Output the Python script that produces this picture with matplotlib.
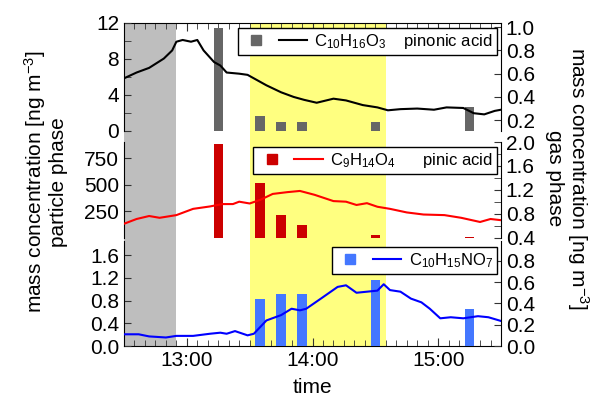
import datetime as dt
import matplotlib
matplotlib.use("Agg")
from matplotlib import pyplot as plt
import matplotlib.dates as mdates
from matplotlib.lines import Line2D
from matplotlib.legend_handler import HandlerTuple
from matplotlib.ticker import MultipleLocator, FixedLocator

# gas phase (right axes)
pin_t = ["12:30", "12:36", "12:42", "12:49", "12:53", "12:55", "12:58", "13:02", "13:05", "13:08",
         "13:13", "13:16", "13:19", "13:25", "13:29", "13:33", "13:38", "13:45", "13:51", "13:56",
         "14:02", "14:10", "14:16", "14:24", "14:31", "14:36", "14:42", "14:50", "14:58", "15:04",
         "15:12", "15:17", "15:22", "15:27", "15:30"]
pin_v = [0.56, 0.61, 0.65, 0.73, 0.80, 0.875, 0.89, 0.875, 0.89, 0.80,
         0.70, 0.67, 0.61, 0.60, 0.59, 0.55, 0.50, 0.44, 0.40, 0.375,
         0.35, 0.385, 0.37, 0.33, 0.31, 0.285, 0.295, 0.30, 0.29, 0.31,
         0.305, 0.26, 0.25, 0.28, 0.29]

pic_t = ["12:30", "12:36", "12:42", "12:47", "12:55", "13:03", "13:11", "13:17", "13:22", "13:25",
         "13:30", "13:35", "13:41", "13:48", "13:54", "14:01", "14:10", "14:16", "14:21", "14:26",
         "14:31", "14:37", "14:45", "14:53", "15:03", "15:11", "15:20", "15:25", "15:30"]
pic_v = [0.63, 0.71, 0.76, 0.73, 0.775, 0.88, 0.92, 0.96, 0.96, 1.00,
         0.97, 1.03, 1.13, 1.16, 1.18, 1.115, 1.01, 1.00, 0.945, 0.975,
         0.915, 0.88, 0.82, 0.785, 0.775, 0.73, 0.66, 0.71, 0.69]

nit_t = ["12:30", "12:37", "12:42", "12:50", "12:55", "13:03", "13:11", "13:16", "13:19", "13:23",
         "13:29", "13:32", "13:38", "13:45", "13:50", "13:54", "13:57", "14:04", "14:12", "14:16",
         "14:21", "14:26", "14:31", "14:34", "14:37", "14:42", "14:47", "14:52", "14:56", "15:01",
         "15:06", "15:12", "15:19", "15:24", "15:30"]
nit_v = [0.11, 0.11, 0.09, 0.08, 0.095, 0.095, 0.115, 0.125, 0.115, 0.14,
         0.10, 0.115, 0.24, 0.29, 0.35, 0.335, 0.35, 0.445, 0.555, 0.57,
         0.50, 0.51, 0.52, 0.58, 0.525, 0.51, 0.445, 0.41, 0.35, 0.26,
         0.27, 0.26, 0.28, 0.27, 0.235]

# particle phase filter samples (left axes)
bar_t = ["13:15", "13:35", "13:45", "13:55", "14:30", "15:15"]
pin_bar = [11.4, 1.7, 1.05, 1.05, 1.05, 2.7]
pic_bar = [880, 510, 212, 118, 24, 8]
nit_bar = [0, 0.82, 0.92, 0.92, 1.16, 0.66]

labels = ["C$_{10}$H$_{16}$O$_3$    pinonic acid",
          "C$_9$H$_{14}$O$_4$      pinic acid",
          "C$_{10}$H$_{15}$NO$_7$"]


def tm(s):
  return dt.datetime(2020, 1, 1, int(s[:2]), int(s[3:]))


def main():
  plt.rcParams.update({"font.family": "Liberation Sans", "font.size": 15,
                       "mathtext.default": "regular",
                       "xtick.direction": "in", "ytick.direction": "in"})
  W, H = 608, 404
  fig = plt.figure(figsize=(W / 100, H / 100), dpi=100)

  def rect(y0, y1):
    return [124 / W, 1 - y1 / H, 377 / W, (y1 - y0) / H]

  bg = fig.add_axes(rect(23, 346))
  bg.axvspan(tm("12:30"), tm("12:55"), color="#bebebe", lw=0)
  bg.axvspan(tm("13:30"), tm("14:35"), color="#ffff80", lw=0)
  bg.set_xlim(tm("12:30"), tm("15:30"))
  bg.set_ylim(0, 1)
  bg.set_yticks([])
  bg.spines["left"].set_visible(False)
  bg.spines["right"].set_visible(False)
  bg.xaxis.set_major_locator(mdates.HourLocator())
  bg.xaxis.set_major_formatter(mdates.DateFormatter("%H:%M"))
  bg.xaxis.set_minor_locator(mdates.MinuteLocator(byminute=range(0, 60, 5)))
  bg.tick_params(axis="x", which="both", top=True, color="#333333")
  bg.tick_params(axis="x", which="major", length=6)
  bg.tick_params(axis="x", which="minor", length=4)
  bg.set_xlabel("time", labelpad=6)

  panels = [
    (23, 131, pin_bar, "#666666", (0, 12), pin_t, pin_v, "black", (0.107, 1.036)),
    (142, 237.5, pic_bar, "#cc0000", (0, 901), pic_t, pic_v, "#ff0000", (0.4, 2.0)),
    (241, 346, nit_bar, "#4477ff", (0, 1.85), nit_t, nit_v, "#0000ff", (0, 0.986)),
  ]
  axes = []
  for y0, y1, bars, bcol, ylim, lt, lv, lcol, ylim2 in panels:
    ax = fig.add_axes(rect(y0, y1), sharex=bg)
    ax.patch.set_alpha(0)
    ax.bar([tm(t) for t in bar_t], bars, width=dt.timedelta(minutes=4.5), color=bcol)
    ax.set_ylim(*ylim)
    ax2 = ax.twinx()
    ax2.plot([tm(t) for t in lt], lv, color=lcol, lw=1.5)
    ax2.set_ylim(*ylim2)
    for a in (ax, ax2):
      a.spines["top"].set_visible(False)
      a.spines["bottom"].set_visible(False)
      a.tick_params(axis="x", which="both", bottom=False, top=False, labelbottom=False)
      a.tick_params(axis="y", which="both", length=5, color="#333333")
    ax.spines["right"].set_visible(False)
    ax2.spines["left"].set_visible(False)
    axes.append((ax, ax2, bcol, lcol))

  a0, b0 = axes[0][0], axes[0][1]
  a0.yaxis.set_major_locator(MultipleLocator(4))
  a0.yaxis.set_minor_locator(MultipleLocator(2))
  b0.yaxis.set_major_locator(FixedLocator([0.2, 0.4, 0.6, 0.8, 1.0]))
  b0.yaxis.set_major_formatter("{x:.1f}")

  a1, b1 = axes[1][0], axes[1][1]
  a1.yaxis.set_major_locator(FixedLocator([250, 500, 750]))
  b1.yaxis.set_major_locator(FixedLocator([0.4, 0.8, 1.2, 1.6, 2.0]))
  b1.yaxis.set_minor_locator(FixedLocator([0.6, 1.0, 1.4, 1.8]))
  b1.yaxis.set_major_formatter("{x:.1f}")

  a2, b2 = axes[2][0], axes[2][1]
  a2.yaxis.set_major_locator(FixedLocator([0, 0.4, 0.8, 1.2, 1.6]))
  a2.yaxis.set_major_formatter("{x:.1f}")
  b2.yaxis.set_major_locator(FixedLocator([0, 0.2, 0.4, 0.6, 0.8]))
  b2.yaxis.set_major_formatter("{x:.1f}")

  # legends: square + line side by side, boxed
  anchors = [(497, 28), (497, 147), (497, 247)]
  for (ax, ax2, bcol, lcol), lab, (xa, ya) in zip(axes, labels, anchors):
    h = (Line2D([], [], marker="s", ls="none", color=bcol, markersize=7),
         Line2D([], [], color=lcol, lw=1.5))
    leg = ax2.legend([h], [lab], handler_map={tuple: HandlerTuple(ndivide=None, pad=0.5)},
                     handlelength=3.9, fontsize=12, loc="upper right",
                     bbox_to_anchor=(xa / W, 1 - ya / H), bbox_transform=fig.transFigure,
                     borderaxespad=0, fancybox=False, framealpha=1, edgecolor="black",
                     borderpad=0.25, handletextpad=0.45)
    leg.get_frame().set_linewidth(1.0)

  fig.text(45 / W, 1 - 182 / H, "mass concentration [ng m$^{-3}$]\nparticle phase",
           rotation=90, ha="center", va="center", multialignment="center", fontsize=15,
           linespacing=1.1)
  fig.text(568 / W, 1 - 178 / H, "mass concentration [ng m$^{-3}$]\ngas phase",
           rotation=270, ha="center", va="center", multialignment="center", fontsize=15,
           linespacing=1.1)

  fig.savefig("out.png", dpi=100)


if __name__ == "__main__":
  main()
